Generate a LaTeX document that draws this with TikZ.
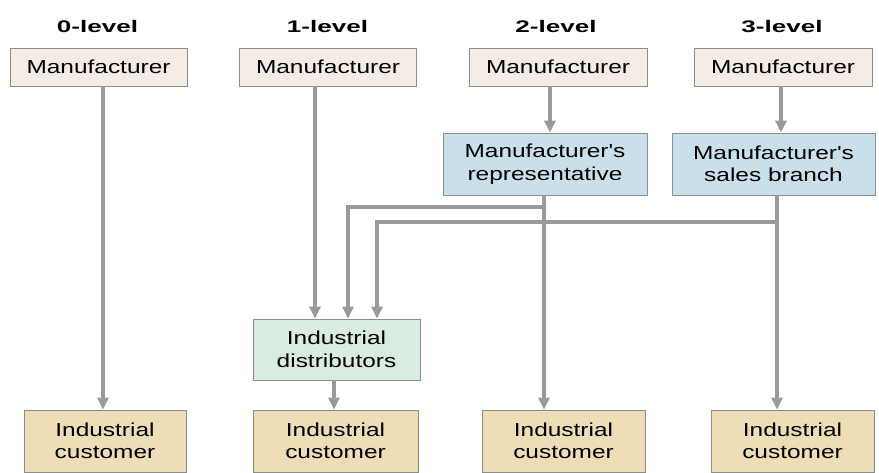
\documentclass[tikz,border=0pt]{standalone}
\usepackage{fontspec}
\setmainfont{Liberation Sans}
\newfontfamily\boxfont[FakeStretch=1.3]{Liberation Sans}
\newfontfamily\headfont[FakeStretch=1.55]{Liberation Sans}
\usetikzlibrary{arrows.meta}
\definecolor{lineg}{HTML}{9A9A9A}
\definecolor{bordg}{HTML}{8C8C8C}
\definecolor{mfill}{HTML}{F6ECE6}
\definecolor{bfill}{HTML}{C9E0EA}
\definecolor{dfill}{HTML}{DAEBDF}
\definecolor{cfill}{HTML}{EFDDB8}
\tikzset{
  box/.style={draw=bordg, line width=0.8pt, inner sep=0pt, align=center,
    font=\boxfont\fontsize{18.8}{22.5}\selectfont},
  mbox/.style={box, fill=mfill, minimum height=38pt},
  bbox/.style={box, fill=bfill, minimum height=62pt},
  dbox/.style={box, fill=dfill, minimum height=61pt},
  cbox/.style={box, fill=cfill, minimum height=62pt},
  head/.style={font=\headfont\bfseries\fontsize{16.8}{18}\selectfont, inner sep=0pt},
  arr/.style={draw=lineg, line width=3.5pt, -{Triangle[width=11pt,length=12pt]}},
}
\begin{document}
\begin{tikzpicture}[x=1pt,y=-1pt]
\useasboundingbox[fill=white] (0,0) rectangle (879,473);
% headers
\node[head] (h0) at (97.5,26.5) {0-level};
\node[head] (h1) at (327.5,26.5) {1-level};
\node[head] (h2) at (556,26.5) {2-level};
\node[head] (h3) at (782,26.5) {3-level};
% manufacturers
\node[mbox, minimum width=177pt] (m0) at (98.5,67) {Manufacturer};
\node[mbox, minimum width=177pt] (m1) at (328,67) {Manufacturer};
\node[mbox, minimum width=178pt] (m2) at (558,67) {Manufacturer};
\node[mbox, minimum width=178pt] (m3) at (783,67) {Manufacturer};
% intermediaries
\node[bbox, minimum width=204pt] (rep) at (545,164) {Manufacturer's\\representative};
\node[bbox, minimum width=203pt] (sal) at (773.5,164) {Manufacturer's\\sales branch};
\node[dbox, minimum width=167pt] (dist) at (336.5,349.5) {Industrial\\distributors};
% customers
\node[cbox, minimum width=162pt] (c0) at (105,441) {Industrial\\customer};
\node[cbox, minimum width=165pt] (c1) at (335.5,441) {Industrial\\customer};
\node[cbox, minimum width=163pt] (c2) at (563.5,441) {Industrial\\customer};
\node[cbox, minimum width=163pt] (c3) at (792.5,441) {Industrial\\customer};
% x positions of the connectors
\coordinate (x0) at (103,0);
\coordinate (x1) at (315,0);
\coordinate (xd) at (334,0);
\coordinate (x2a) at (550,0);
\coordinate (x2) at (544,0);
\coordinate (x3a) at (781,0);
\coordinate (x3) at (777,0);
\coordinate (xb1) at (348,207);
\coordinate (xb2) at (377,222);
% connectors
\draw[arr] (m0.south -| x0) -- (c0.north -| x0);
\draw[arr] (m1.south -| x1) -- (dist.north -| x1);
\draw[arr] (dist.south -| xd) -- (c1.north -| xd);
\draw[arr] (m2.south -| x2a) -- (rep.north -| x2a);
\draw[arr] (m3.south -| x3a) -- (sal.north -| x3a);
\draw[arr] (rep.south -| x2) -- (c2.north -| x2);
\draw[arr] (sal.south -| x3) -- (c3.north -| x3);
\draw[arr] (rep.south -| x2) |- (xb1) -- (dist.north -| xb1);
\draw[arr] (sal.south -| x3) |- (xb2) -- (dist.north -| xb2);
\end{tikzpicture}
\end{document}
